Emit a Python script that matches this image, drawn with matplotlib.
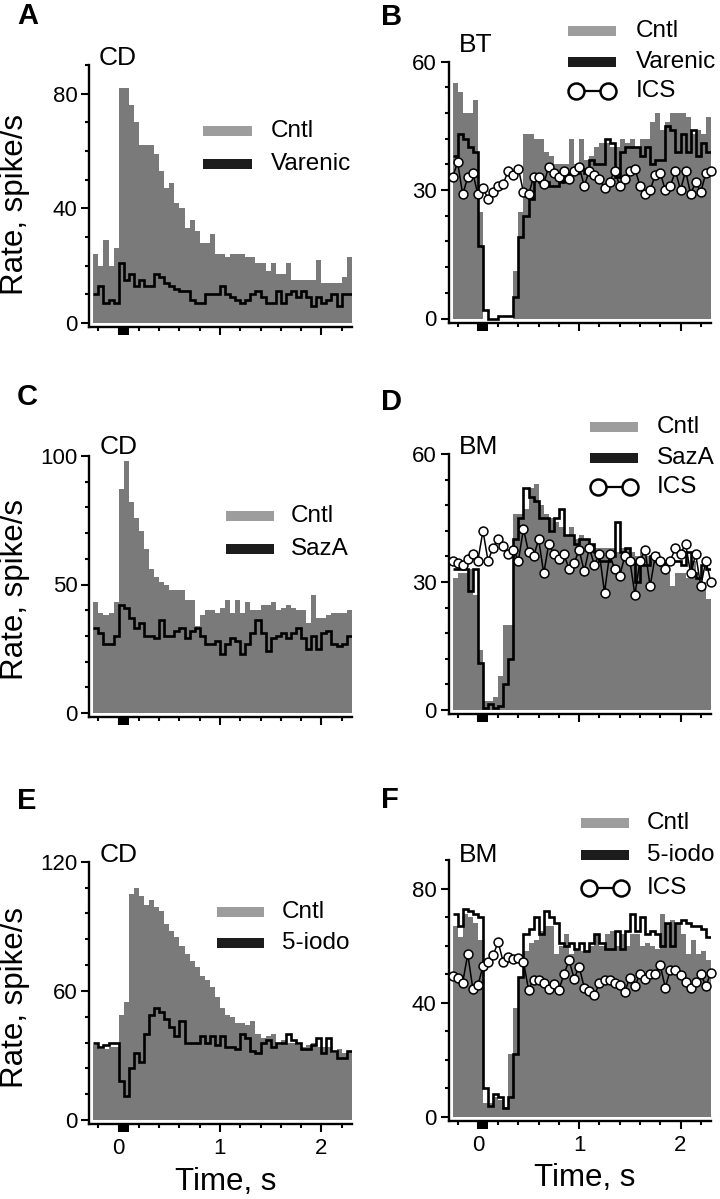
import matplotlib.pyplot as plt
import numpy as np
from matplotlib.patches import Rectangle
from matplotlib.lines import Line2D
from matplotlib.ticker import MultipleLocator

plt.rcParams['font.family'] = ['Liberation Sans', 'DejaVu Sans']

# 50 ms bins, -0.25 s .. 2.30 s (51 bins, 52 edges); ICS points sit on the edges
t_edges = np.round(np.arange(-0.25, 2.3001, 0.05), 2)
stim_on, stim_off = 0.0, 0.1

# --- A: CD, Cntl vs Varenic
a_cntl = [24, 20, 29, 20, 26, 82, 82, 76, 70, 62, 62, 62, 59, 53, 47, 49, 42, 40, 33, 36,
          32, 28, 28, 31, 24, 24, 23, 24, 24, 24, 23, 23, 21, 21, 18, 21, 17, 17, 21, 15,
          15, 15, 15, 15, 22, 14, 14, 14, 14, 16, 23]
a_drug = [10, 13, 7, 8, 7, 21, 15, 17, 13, 15, 13, 13, 17, 16, 14, 13, 12, 11, 11, 8,
          7, 7, 10, 10, 10, 13, 10, 9, 8, 7, 8, 10, 11, 9, 7, 7, 11, 7, 10, 11,
          9, 11, 9, 6, 9, 7, 8, 10, 6, 10, 10]

# --- B: BT, Cntl vs Varenic, ICS
b_cntl = [55, 53, 48, 48, 51, 25, 0, 0, 0, 0, 0, 0, 11, 25, 43, 43, 42, 42, 39, 38,
          36, 36, 36, 42, 36, 42, 37, 38, 40, 41, 41, 40, 40, 42, 41, 42, 40, 42, 42, 46,
          48, 44, 46, 48, 48, 48, 47, 43, 44, 43, 47]
b_drug = [38, 43, 42, 40, 39, 17, 2, 0, 0, 0.5, 0.5, 0.5, 5, 19, 24, 28, 33, 32, 32, 31,
          31, 32, 33, 34, 34, 35, 34, 37, 36, 36, 42, 41, 33, 39, 40, 40, 40, 38, 40, 36,
          37, 37, 45, 44, 39, 43, 39, 44, 38, 41, 39]
b_ics = [33, 36.5, 29, 33, 34, 29, 30.5, 28, 29.5, 31, 31.5, 34.5, 33.5, 35, 29.5, 29, 33, 33,
         31.5, 35.5, 34, 33, 34.5, 32.5, 34.5, 35.5, 31, 34.5, 33.5, 32.5, 30.5, 32, 34.5, 31,
         32.5, 34.5, 35, 31, 29, 30, 33.5, 34, 30, 31, 34.5, 30, 34.5, 29, 32, 29.5, 34, 34.5]

# --- C: CD, Cntl vs SazA
c_cntl = [43, 39, 38, 39, 43, 87, 98, 82, 76, 71, 64, 56, 53, 51, 50, 48, 48, 48, 44, 44,
          34, 38, 40, 40, 39, 41, 44, 39, 44, 39, 43, 40, 40, 42, 42, 43, 40, 41, 42, 41,
          40, 40, 35, 46, 37, 37, 38, 39, 39, 39, 40]
c_drug = [33, 31, 27, 27, 30, 42, 41, 37, 33, 35, 30, 30, 29, 36, 30, 30, 32, 33, 29, 32,
          33, 30, 27, 27, 28, 23, 27, 29, 28, 23, 27, 31, 36, 31, 24, 29, 30, 31, 29, 31,
          33, 29, 25, 30, 25, 31, 32, 27, 26, 27, 30]

# --- D: BM, Cntl vs SazA, ICS
d_cntl = [31, 32, 32, 33, 27, 14, 2, 2, 3, 8, 20, 20, 46, 46, 47, 52, 53, 48, 46, 45,
          44, 43, 41, 43, 40, 41, 40, 39, 38, 38, 38, 38, 37, 38, 38, 37, 36, 37, 36, 35,
          37, 35, 32, 29, 32, 32, 31, 35, 31, 30, 26]
d_drug = [33, 33, 33, 28, 33, 11, 0.5, 1.5, 0.5, 1, 6, 12, 40, 45, 52, 50, 49, 45, 45, 42,
          45, 47, 41, 41, 39, 40, 40, 39, 37, 35, 35, 36, 44, 37, 38, 35, 30, 34, 34, 36,
          35, 34, 35, 35, 35, 34, 37, 32, 31, 34, 33]
d_ics = [35, 34.5, 34, 35.5, 36.5, 35, 42, 35, 38, 40, 38.5, 36.5, 37.5, 35, 42.5, 37, 36, 40,
         32, 39, 36.5, 35.5, 36.5, 33, 34.5, 37.5, 32.5, 38, 34, 36.5, 27.5, 36.5, 33, 31.5,
         36, 35, 27, 35, 37.5, 29, 36, 35, 33, 35, 38, 36.5, 39, 32, 36.5, 29, 35, 30]

# --- E: CD, Cntl vs 5-iodo
e_cntl = [35, 33, 33, 34, 34, 49, 55, 105, 108, 104, 100, 102, 99, 97, 91, 88, 85, 81, 77, 74,
          71, 67, 65, 62, 57, 52, 49, 48, 45, 45, 44, 46, 40, 38, 39, 40, 35, 37, 36, 36,
          35, 34, 35, 36, 34, 34, 34, 31, 33, 31, 32]
e_drug = [36, 34, 35, 36, 36, 18, 11, 24, 31, 27, 40, 49, 52, 50, 47, 43, 39, 46, 36, 36,
          36, 39, 36, 39, 35, 39, 34, 34, 33, 40, 38, 32, 31, 36, 37, 34, 36, 36, 40, 37,
          36, 33, 33, 35, 38, 31, 38, 32, 29, 29, 32]

# --- F: BM, Cntl vs 5-iodo, ICS
f_cntl = [67, 63, 71, 70, 68, 62, 5, 5, 7, 6, 3.5, 22, 38, 49, 58, 61, 62, 65, 67, 67,
          57, 60, 64, 57, 59, 58, 58, 60, 64, 60, 64, 65, 60, 64, 60, 64, 64, 60, 61, 60,
          59, 71, 68, 69, 68, 64, 57, 62, 57, 58, 55]
f_drug = [71, 67, 73, 72, 71, 70, 10, 4, 8, 7, 3, 7, 22, 49, 64, 66, 70, 64, 72, 70,
          68, 61, 60, 61, 59, 61, 58, 61, 64, 61, 59, 59, 65, 59, 65, 71, 65, 70, 64, 65,
          64, 60, 68, 60, 68, 69, 68, 67, 67, 66, 63]
f_ics = [49.3, 48.8, 47.1, 57, 45, 46.1, 52.8, 54.3, 56.6, 61.3, 54.3, 56.1, 55.5, 55.8, 54.3,
         44.6, 48.1, 48.1, 46.9, 45, 46.7, 44.6, 50, 54.9, 48.5, 52.6, 45.3, 44.1, 42.6, 46.9,
         47.9, 47.9, 46.9, 46.1, 43.8, 48.8, 45.8, 50.2, 48.5, 50.2, 50.2, 53.1, 45.3, 51.6,
         51.6, 49.6, 47.3, 45.3, 47.3, 50.2, 45.8, 50.6]

W, H = 720, 1199
BAR = '#7a7a7a'
KEY_GRAY = '#9d9d9d'
KEY_BLACK = '#1c1c1c'

fig = plt.figure(figsize=(W / 100, H / 100), dpi=100)


def fx(x):
    return x / W


def fy(y):
    return 1 - y / H


# box in pixels (left, top, right, bottom = x spine), y range, ticks, legend layout
panels = [
    dict(letter='A', lxy=(17, 16), region='CD', rxy=(99, 58), box=(89.3, 65, 351.7, 327),
         ymax=90, major=40, minor=10, cntl=a_cntl, drug=a_drug, ics=None, name='Varenic',
         key=(203, 252, [131, 164], 271), ylab=205),
    dict(letter='B', lxy=(381, 17), region='BT', rxy=(459, 45), box=(448.5, 61.7, 710.9, 322.5),
         ymax=60, major=30, minor=6, cntl=b_cntl, drug=b_drug, ics=b_ics, name='Varenic',
         key=(568, 616, [30.7, 62, 90.7], 636), ylab=None),
    dict(letter='C', lxy=(17, 397), region='CD', rxy=(100, 447), box=(89.3, 456, 351.7, 717),
         ymax=100, major=50, minor=10, cntl=c_cntl, drug=c_drug, ics=None, name='SazA',
         key=(226, 274, [516, 549], 291), ylab=590),
    dict(letter='D', lxy=(381, 402), region='BM', rxy=(459, 447), box=(448.5, 454, 710.9, 714),
         ymax=60, major=30, minor=6, cntl=d_cntl, drug=d_drug, ics=d_ics, name='SazA',
         key=(590, 638, [426.7, 458.3, 487.3], 657), ylab=None),
    dict(letter='E', lxy=(17, 801), region='CD', rxy=(100, 855), box=(89.3, 861.7, 351.7, 1124),
         ymax=120, major=60, minor=12, cntl=e_cntl, drug=e_drug, ics=None, name='5-iodo',
         key=(217, 264, [911.7, 943.3], 282), ylab=997),
    dict(letter='F', lxy=(381, 800), region='BM', rxy=(459, 855), box=(448.5, 860, 710.9, 1121),
         ymax=90, major=40, minor=10, cntl=f_cntl, drug=f_drug, ics=f_ics, name='5-iodo',
         key=(581, 629, [822.7, 855, 887.7], 647), ylab=None),
]


def add_key(x0, x1, yc, kind, label, tx):
    if kind == 'ics':
        fig.add_artist(Line2D([fx(x0 + 8), fx(x1 - 8)], [fy(yc), fy(yc)],
                              transform=fig.transFigure, color='k', lw=1.6,
                              marker='o', ms=11.5, mfc='white', mec='k', mew=1.8))
    else:
        col = KEY_GRAY if kind == 'cntl' else KEY_BLACK
        fig.add_artist(Rectangle((fx(x0), fy(yc + 5)), fx(x1) - fx(x0), fy(yc - 5) - fy(yc + 5),
                                 transform=fig.transFigure, color=col, lw=0))
    fig.text(fx(tx), fy(yc), label, ha='left', va='center', fontsize=17.5)


for p in panels:
    l, t, r, b = p['box']
    ax = fig.add_axes([fx(l), fy(b), fx(r) - fx(l), fy(t) - fy(b)])
    ymax = p['ymax']
    ybot = -4.0 / (b - 4 - t) * ymax

    ax.stairs(p['cntl'], t_edges, fill=True, color=BAR, lw=0, zorder=1)
    ax.stairs(p['drug'], t_edges, baseline=None, color='k', lw=1.9, zorder=2)
    if p['ics'] is not None:
        ax.plot(t_edges, p['ics'], color='k', lw=1.1, marker='o', ms=6.4,
                mfc='white', mec='k', mew=1.1, zorder=3, clip_on=False)

    # stimulus marker under the time axis
    ax.add_patch(Rectangle((stim_on, -8.0 / (b - t)), stim_off - stim_on, 8.0 / (b - t),
                           transform=ax.get_xaxis_transform(), color='k', lw=0,
                           clip_on=False, zorder=5))

    ax.set_xlim(-0.29, 2.30)
    ax.set_ylim(ybot, ymax)
    ax.xaxis.set_major_locator(MultipleLocator(1))
    ax.xaxis.set_minor_locator(MultipleLocator(0.2))
    ax.yaxis.set_major_locator(MultipleLocator(p['major']))
    ax.yaxis.set_minor_locator(MultipleLocator(p['minor']))
    for s in ['top', 'right']:
        ax.spines[s].set_visible(False)
    for s in ['left', 'bottom']:
        ax.spines[s].set_linewidth(1.7)
    ax.tick_params(which='major', direction='out', length=6, width=1.5, labelsize=16, pad=2.5)
    ax.tick_params(which='minor', direction='out', length=3.2, width=1.5)
    ax.tick_params(axis='x', which='major', pad=4)
    if p['letter'] in ('E', 'F'):
        ax.text(0.52, -0.22, 'Time, s', transform=ax.transAxes, ha='center', va='center',
                fontsize=22.5)
    else:
        ax.tick_params(axis='x', labelbottom=False)

    fig.text(fx(p['lxy'][0]), fy(p['lxy'][1]), p['letter'], ha='left', va='center',
             fontsize=21, fontweight='bold')
    fig.text(fx(p['rxy'][0]), fy(p['rxy'][1]), p['region'], ha='left', va='center', fontsize=19)
    if p['ylab'] is not None:
        fig.text(fx(15), fy(p['ylab']), 'Rate, spike/s', rotation=90, ha='center',
                 va='center', fontsize=22.5)

    x0, x1, rows, tx = p['key']
    labels = ['Cntl', p['name'], 'ICS']
    kinds = ['cntl', 'drug', 'ics']
    for yc, kind, lab in zip(rows, kinds, labels):
        add_key(x0, x1, yc, kind, lab, tx)

fig.savefig('out.png', dpi=100)
